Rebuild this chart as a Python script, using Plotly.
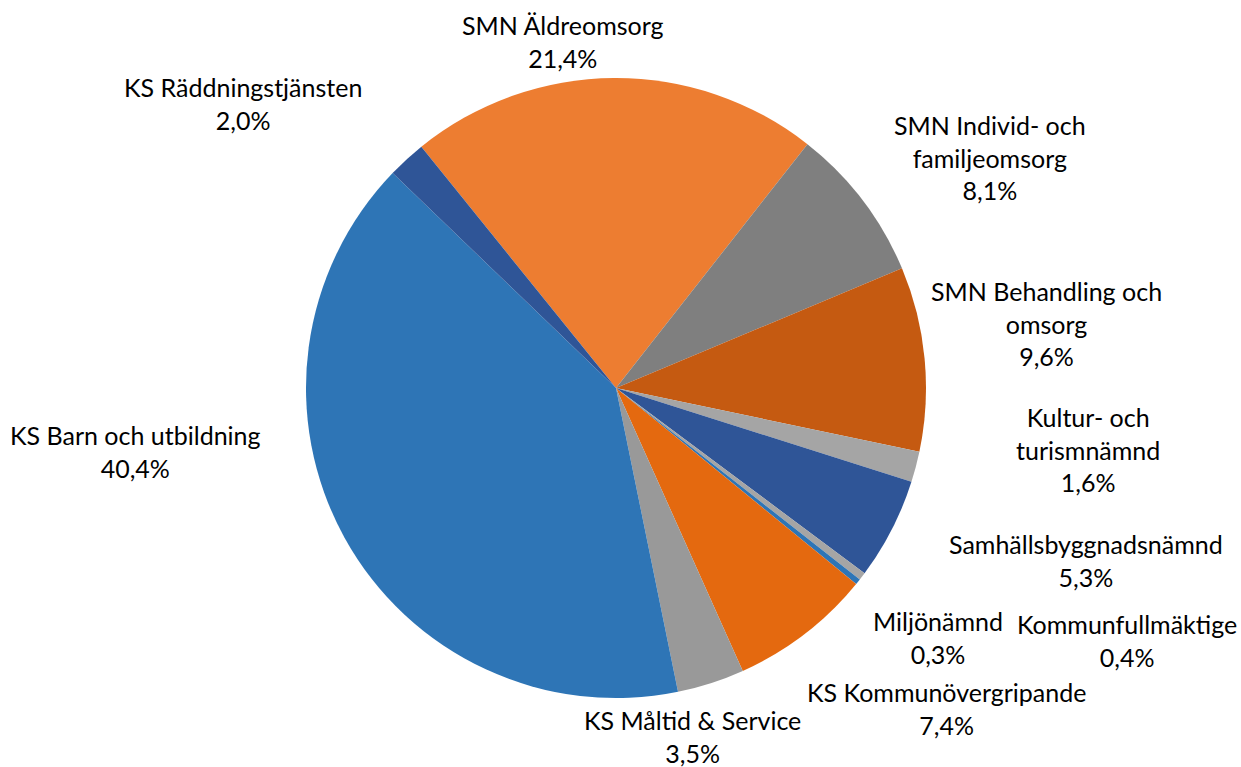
import plotly.graph_objects as go

# Data (clockwise order starting with SMN Äldreomsorg)
labels = [
    "SMN Äldreomsorg",
    "SMN Individ- och familjeomsorg",
    "SMN Behandling och omsorg",
    "Kultur- och turismnämnd",
    "Samhällsbyggnadsnämnd",
    "Kommunfullmäktige",
    "Miljönämnd",
    "KS Kommunövergripande",
    "KS Måltid & Service",
    "KS Barn och utbildning",
    "KS Räddningstjänsten",
]
values = [21.4, 8.1, 9.6, 1.6, 5.3, 0.4, 0.3, 7.4, 3.5, 40.4, 2.0]

# Display wrapping of label text
wrapped = {
    "SMN Individ- och familjeomsorg": "SMN Individ- och<br>familjeomsorg",
    "SMN Behandling och omsorg": "SMN Behandling och<br>omsorg",
    "Kultur- och turismnämnd": "Kultur- och<br>turismnämnd",
}

# Styles
colors = ["#ED7D31", "#7F7F7F", "#C55A11", "#A5A5A5", "#2F5597", "#A5A5A5",
          "#2E75B6", "#E4690F", "#999999", "#2E75B6", "#2F5597"]
# label block centres in screen pixels (x, y)
label_pos = [(563, 41), (990, 157), (1046, 323), (1088, 449), (1086, 560),
             (1127, 640), (938, 637), (946, 708), (692, 736), (135, 452), (243, 103)]

W, H = 1241, 767
cx, cy, r = 616, 388, 310

fig = go.Figure(go.Pie(
    labels=labels,
    values=values,
    sort=False,
    direction="clockwise",
    rotation=-38.9,
    textinfo="none",
    hoverinfo="label+percent",
    marker=dict(colors=colors, line=dict(width=0)),
    domain=dict(x=[(cx - r) / W, (cx + r) / W], y=[1 - (cy + r) / H, 1 - (cy - r) / H]),
    showlegend=False,
))

total = sum(values)
for lab, val, (px, py) in zip(labels, values, label_pos):
    pct = f"{100 * val / total:.1f}".replace(".", ",") + "%"
    txt = wrapped.get(lab, lab) + "<br>" + pct
    fig.add_annotation(
        x=px / W, y=1 - py / H, xref="paper", yref="paper",
        text=txt, showarrow=False, xanchor="center", yanchor="middle",
        align="center", borderpad=0,
        font=dict(family="Lato", size=25, color="#000000"),
    )

fig.update_layout(
    width=W, height=H,
    margin=dict(l=0, r=0, t=0, b=0),
    paper_bgcolor="white", plot_bgcolor="white",
)

fig.write_html(
    "out.html",
    config={"displayModeBar": False},
    post_script="document.body.style.margin='0';document.body.style.overflow='hidden';",
)
